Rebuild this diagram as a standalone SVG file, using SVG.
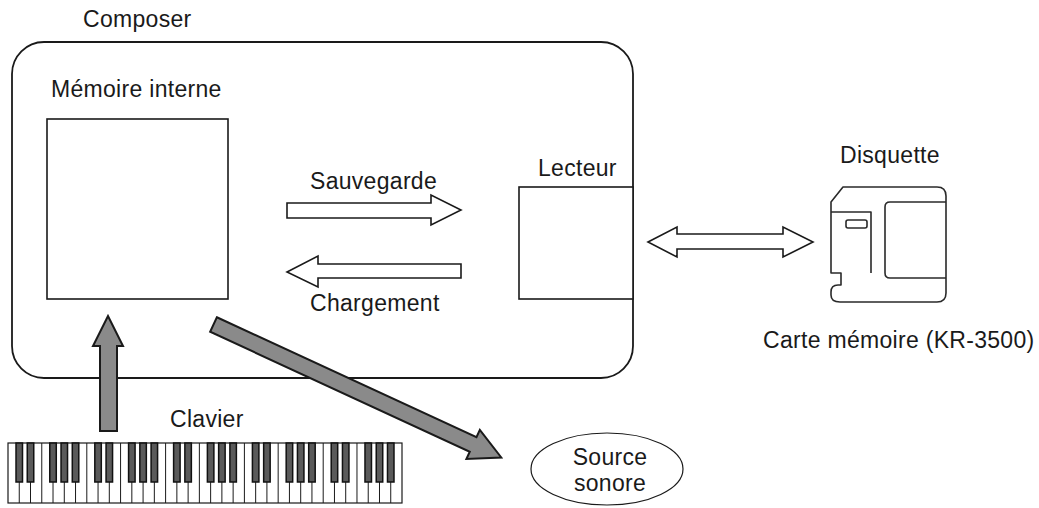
<svg xmlns="http://www.w3.org/2000/svg" width="1039" height="508" viewBox="0 0 1039 508">
  <style>
    text { font-family: "Liberation Sans", Arial, sans-serif; font-size: 23px; fill: #1a1a1a; letter-spacing: 0.3px; }
    .frame { fill: none; stroke: #1a1a1a; stroke-width: 1.8; }
    .box { fill: #fff; stroke: #1a1a1a; stroke-width: 1.6; }
    .hollow { fill: #fff; stroke: #1a1a1a; stroke-width: 1.6; stroke-linejoin: miter; }
    .solid { fill: #8a8a8a; stroke: #1a1a1a; stroke-width: 2; stroke-linejoin: miter; }
    .card { fill: none; stroke: #2a2a2a; stroke-width: 1.6; stroke-linejoin: round; }
    .thin { fill: #fff; stroke: #1a1a1a; stroke-width: 1.2; }
    .bk { fill: #5a5a5a; stroke: #111; stroke-width: 1.5; }
  </style>

  <!-- Composer unit -->
  <g id="composer">
    <rect class="frame" x="12" y="42" width="621" height="336" rx="32" ry="32"/>
    <text x="83" y="27">Composer</text>
  </g>

  <!-- Internal memory -->
  <g id="memoire-interne">
    <text x="51" y="97">Mémoire interne</text>
    <rect class="box" x="47" y="119" width="181" height="180"/>
  </g>

  <!-- Drive (right edge shares the composer frame) -->
  <g id="lecteur">
    <text x="538" y="176">Lecteur</text>
    <rect class="box" x="519" y="187" width="114" height="112"/>
  </g>

  <!-- Memory card -->
  <g id="disquette">
    <text x="840" y="163">Disquette</text>
    <path class="card" d="M831,202 L843,187 L937,187 Q946,187 946,196 L946,293 Q946,302 937,302 L840,302 Q831,302 831,295 L831,292 Q831,285 838,285 L841,285 L841,273 L831,273 Z"/>
    <path class="card" d="M831,212 L871,212 L871,273"/>
    <rect class="card" x="846" y="220" width="21" height="8" rx="2"/>
    <path class="card" d="M946,202 L890,202 Q885,202 885,207 L885,273 Q885,278 890,278 L946,278"/>
    <text x="763" y="348">Carte mémoire (KR-3500)</text>
  </g>

  <!-- Keyboard -->
  <g id="clavier">
    <text x="170" y="427">Clavier</text>
    <rect class="thin" x="8" y="443" width="394" height="60"/>
    <path fill="none" stroke="#1a1a1a" stroke-width="1" d="M19.26,443V503M30.51,443V503M41.77,443V503M53.03,443V503M64.29,443V503M75.54,443V503M86.8,443V503M98.06,443V503M109.31,443V503M120.57,443V503M131.83,443V503M143.09,443V503M154.34,443V503M165.6,443V503M176.86,443V503M188.11,443V503M199.37,443V503M210.63,443V503M221.89,443V503M233.14,443V503M244.4,443V503M255.66,443V503M266.91,443V503M278.17,443V503M289.43,443V503M300.69,443V503M311.94,443V503M323.2,443V503M334.46,443V503M345.71,443V503M356.97,443V503M368.23,443V503M379.49,443V503M390.74,443V503"/>
    <g>
      <rect class="bk" x="16.01" y="443" width="6.5" height="39"/>
      <rect class="bk" x="27.26" y="443" width="6.5" height="39"/>
      <rect class="bk" x="49.78" y="443" width="6.5" height="39"/>
      <rect class="bk" x="61.04" y="443" width="6.5" height="39"/>
      <rect class="bk" x="72.29" y="443" width="6.5" height="39"/>
      <rect class="bk" x="94.81" y="443" width="6.5" height="39"/>
      <rect class="bk" x="106.06" y="443" width="6.5" height="39"/>
      <rect class="bk" x="128.58" y="443" width="6.5" height="39"/>
      <rect class="bk" x="139.84" y="443" width="6.5" height="39"/>
      <rect class="bk" x="151.09" y="443" width="6.5" height="39"/>
      <rect class="bk" x="173.61" y="443" width="6.5" height="39"/>
      <rect class="bk" x="184.86" y="443" width="6.5" height="39"/>
      <rect class="bk" x="207.38" y="443" width="6.5" height="39"/>
      <rect class="bk" x="218.64" y="443" width="6.5" height="39"/>
      <rect class="bk" x="229.89" y="443" width="6.5" height="39"/>
      <rect class="bk" x="252.41" y="443" width="6.5" height="39"/>
      <rect class="bk" x="263.66" y="443" width="6.5" height="39"/>
      <rect class="bk" x="286.18" y="443" width="6.5" height="39"/>
      <rect class="bk" x="297.44" y="443" width="6.5" height="39"/>
      <rect class="bk" x="308.69" y="443" width="6.5" height="39"/>
      <rect class="bk" x="331.21" y="443" width="6.5" height="39"/>
      <rect class="bk" x="342.46" y="443" width="6.5" height="39"/>
      <rect class="bk" x="364.98" y="443" width="6.5" height="39"/>
      <rect class="bk" x="376.24" y="443" width="6.5" height="39"/>
      <rect class="bk" x="387.49" y="443" width="6.5" height="39"/>
    </g>
  </g>

  <!-- Sound source -->
  <g id="source-sonore">
    <ellipse class="thin" cx="607" cy="469" rx="76" ry="36"/>
    <text x="610" y="465" text-anchor="middle">Source</text>
    <text x="610" y="491" text-anchor="middle">sonore</text>
  </g>

  <!-- Connectors -->
  <g id="connectors">
    <!-- Sauvegarde: memory to drive -->
    <polygon class="hollow" points="287,203 431,203 431,195 461,210 431,225 431,218 287,218"/>
    <text x="310" y="189">Sauvegarde</text>
    <!-- Chargement: drive to memory -->
    <polygon class="hollow" points="461,264 318,264 318,256 287,272 318,287 318,278 461,278"/>
    <text x="310" y="311">Chargement</text>
    <!-- Drive to card, both ways -->
    <polygon class="hollow" points="648,242 677,227 677,234 783,234 783,227 813,242 783,257 783,249 677,249 677,257"/>
    <!-- Keyboard to memory -->
    <polygon class="solid" points="100,431 100,346 93,346 108,316 123,346 117,346 117,431"/>
    <!-- Memory to sound source -->
    <g transform="translate(213.5,324.5) rotate(24.8)">
      <polygon class="solid" points="0,-8 286,-8 286,-16 317,0 286,16 286,8 0,8"/>
    </g>
  </g>
</svg>
